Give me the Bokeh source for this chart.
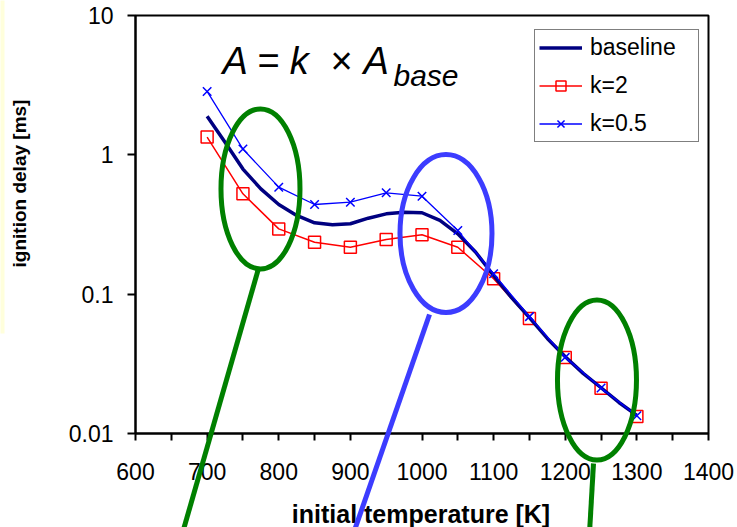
import numpy as np
from bokeh.plotting import figure
from bokeh.models import (FixedTicker, PrintfTickFormatter, Legend, LegendItem, Label)
from bokeh.core.properties import value
from bokeh.embed import file_html
from bokeh.resources import INLINE

# --- data -------------------------------------------------------------------
temperature = [700, 750, 800, 850, 900, 950, 1000, 1050, 1100, 1150, 1200, 1250, 1300]
delay_k2 = [1.34, 0.525, 0.294, 0.236, 0.217, 0.247, 0.267, 0.217, 0.129,
            0.0668, 0.0351, 0.0211, 0.01325]
delay_k05 = [2.85, 1.10, 0.586, 0.44, 0.457, 0.534, 0.505, 0.286, 0.140,
             0.069, 0.0352, 0.0212, 0.0134]

baseline_temperature = [700, 725, 750, 775, 800, 825, 850, 875, 900, 925, 950, 975,
                        1000, 1025, 1050, 1075, 1100, 1125, 1150, 1175, 1200, 1225,
                        1250, 1275, 1300]
delay_baseline = [1.89, 1.23, 0.79, 0.57, 0.44, 0.367, 0.325, 0.315, 0.32, 0.351,
                  0.377, 0.387, 0.384, 0.338, 0.271, 0.20, 0.136, 0.0946, 0.068,
                  0.0481, 0.0355, 0.027, 0.0213, 0.0167, 0.0135]

x_ticks = [600, 700, 800, 900, 1000, 1100, 1200, 1300, 1400]
x_minor_ticks = [650, 750, 850, 950, 1050, 1150, 1250, 1350]
y_ticks = [0.01, 0.1, 1, 10]

x_title = "initial temperature [K]"
y_title = "ignition delay [ms]"

# --- layout -----------------------------------------------------------------
W, H = 737, 527
BORDER_L, BORDER_R, BORDER_T, BORDER_B = 135, 29, 15, 94
FRAME_W = W - BORDER_L - BORDER_R
FRAME_H = H - BORDER_T - BORDER_B
X0, X1 = 600, 1400
Y0, Y1 = 0.01, 10

FONT = "Liberation Sans"

p = figure(width=W, height=H, x_range=(X0, X1), y_range=(Y0, Y1),
           y_axis_type="log", output_backend="svg", toolbar_location=None,
           min_border_left=BORDER_L, min_border_right=BORDER_R,
           min_border_top=BORDER_T, min_border_bottom=BORDER_B)

p.xgrid.visible = False
p.ygrid.visible = False
p.outline_line_color = "black"
p.outline_line_width = 2
p.background_fill_color = "white"
p.border_fill_color = "white"

xa = p.xaxis[0]
xa.ticker = FixedTicker(ticks=x_ticks, minor_ticks=x_minor_ticks)
ya = p.yaxis[0]
ya.ticker = FixedTicker(ticks=y_ticks, minor_ticks=[])
ya.formatter = PrintfTickFormatter(format="%g")

for ax in (xa, ya):
    ax.axis_line_color = "black"
    ax.axis_line_width = 2
    ax.major_tick_line_color = "black"
    ax.major_tick_line_width = 2
    ax.minor_tick_line_color = "black"
    ax.minor_tick_line_width = 2
    ax.major_tick_in = 0
    ax.minor_tick_in = 0
    ax.major_label_text_font = FONT
    ax.major_label_text_font_size = "23px"
    ax.major_label_text_color = "black"

xa.major_tick_out = 7
xa.minor_tick_out = 7
xa.major_label_standoff = 22

ya.major_tick_out = 8
ya.minor_tick_out = 0
ya.major_label_standoff = 14

# --- series -----------------------------------------------------------------
r_k2_line = p.line(temperature, delay_k2, line_color="#ff0000", line_width=1.5)
r_k2_mark = p.scatter(temperature, delay_k2, marker="square", size=12,
                      line_color="#ff0000", line_width=1.5, fill_color=None)
r_base = p.line(baseline_temperature, delay_baseline, line_color="#000080",
                line_width=3.5)
r_k05_line = p.line(temperature, delay_k05, line_color="#0000ff", line_width=1.3)
r_k05_mark = p.scatter(temperature, delay_k05, marker="x", size=12,
                       line_color="#0000ff", line_width=1.5)

legend = Legend(items=[
    LegendItem(label="baseline", renderers=[r_base]),
    LegendItem(label="k=2", renderers=[r_k2_line, r_k2_mark]),
    LegendItem(label="k=0.5", renderers=[r_k05_line, r_k05_mark]),
], location=(399, 291))
legend.border_line_color = "black"
legend.border_line_width = 1.5
legend.background_fill_color = "white"
legend.background_fill_alpha = 1
legend.label_text_font = FONT
legend.label_text_font_size = "23px"
legend.label_text_color = "black"
legend.glyph_width = 43
legend.glyph_height = 25
legend.label_height = 25
legend.label_width = 104
legend.label_standoff = 8
legend.spacing = 11
legend.padding = 4
legend.margin = 0
p.add_layout(legend, "center")


# --- helpers to place decorations in frame pixels ----------------------------
def px_to_data(px, py):
    """Frame pixel offsets (from top-left of the frame) to data coordinates."""
    x = X0 + np.asarray(px, dtype=float) / FRAME_W * (X1 - X0)
    dec = np.log10(Y1) - np.asarray(py, dtype=float) / FRAME_H * (np.log10(Y1) - np.log10(Y0))
    return x, 10 ** dec


# pale strip along the left page edge
bx, by = px_to_data([-BORDER_L, -BORDER_L + 4], [-BORDER_T, 318])
p.quad(left=[bx[0]], right=[bx[1]], top=[by[0]], bottom=[by[1]],
       fill_color="#ffffdc", line_color=None, level="overlay")

# --- axis titles (placed freely in the borders) -----------------------------
tx, ty = px_to_data([285.5, -116], [498, 168])
p.text(x=[tx[0]], y=[ty[0]], text=[x_title], angle=0, level="overlay",
       text_font=value(FONT), text_font_size="25px", text_font_style="bold",
       text_color="black", text_align="center", text_baseline="middle")
p.text(x=[tx[1]], y=[ty[1]], text=[y_title], angle=np.pi / 2, level="overlay",
       text_font=value(FONT), text_font_size="19px", text_font_style="bold",
       text_color="black", text_align="center", text_baseline="middle")

# --- formula ----------------------------------------------------------------
formula_parts = [
    # text, left px, baseline px, size, style
    ("A = k", 87, 45, "38px", "italic"),
    ("\u00d7", 195, 45, "38px", "normal"),
    ("A", 228, 45, "38px", "italic"),
    ("base", 258, 60, "30px", "italic"),
]
for txt, lx, bl, size, style in formula_parts:
    dx, dy = px_to_data(lx, bl)
    p.add_layout(Label(x=float(dx), y=float(dy), text=txt, text_font=FONT,
                       text_font_size=size, text_font_style=style,
                       text_color="black", text_baseline="alphabetic",
                       text_align="left"))

# --- highlight ellipses and callout lines ------------------------------------
callouts = [
    # centre (K, ms), width px, height px, colour, line start px, line end px
    ((774.5, 0.569), 79, 160, "#008000", (123, 253), (42, 535)),
    ((1033.5, 0.2725), 92, 158, "#3c3cff", (294, 299), (212, 535)),
    ((1244.3, 0.0242), 79, 160, "#008000", (458, 448), (453, 535)),
]
for (cx, cy), ew, eh, color, (sx, sy), (ex, ey) in callouts:
    p.ellipse(x=[cx], y=[cy], width=[ew], height=[eh], width_units="screen",
              height_units="screen", fill_color=None, line_color=color,
              line_width=5, level="overlay")
    lxs, lys = px_to_data([sx, ex], [sy, ey])
    p.line(list(lxs), list(lys), line_color=color, line_width=5, level="overlay")

open("out.html", "w").write(file_html(p, INLINE))
